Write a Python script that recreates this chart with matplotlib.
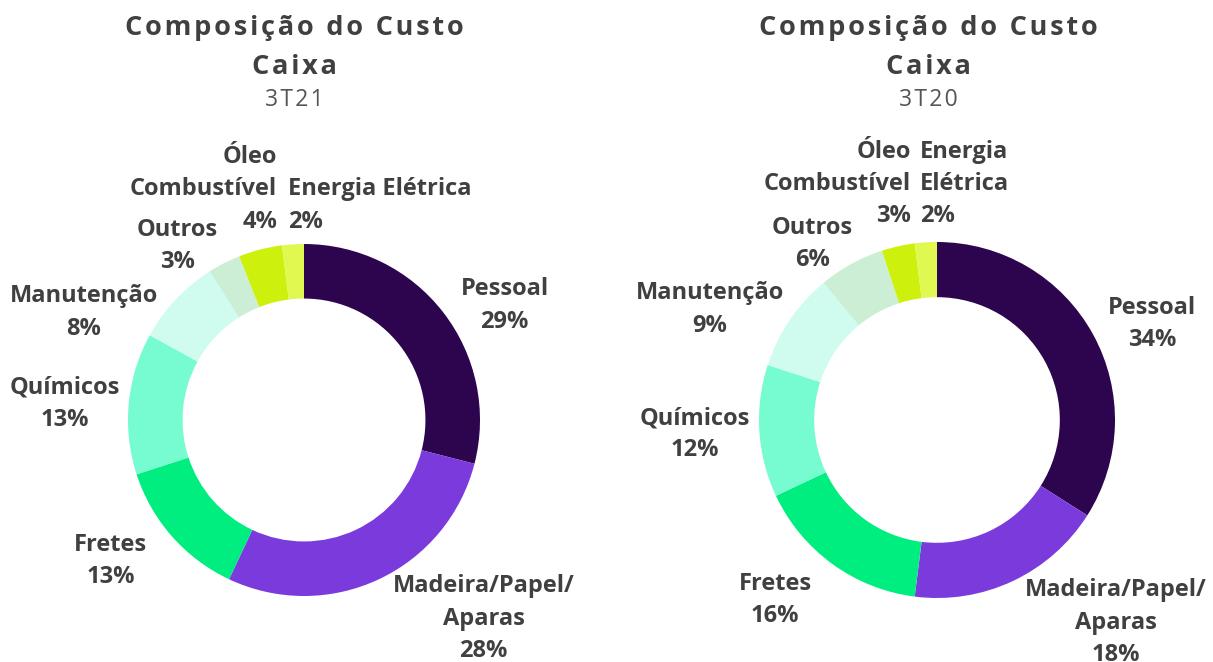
import matplotlib
matplotlib.use('Agg')
import matplotlib.pyplot as plt

# 데이터
categorias = ['Pessoal', 'Madeira/Papel/\nAparas', 'Fretes', 'Químicos', 'Manutenção',
              'Outros', 'Óleo\nCombustível', 'Energia Elétrica']
valores_3t21 = [29, 28, 13, 13, 8, 3, 4, 2]
valores_3t20 = [34, 18, 16, 12, 9, 6, 3, 2]
periodos = ['3T21', '3T20']
cores = ['#2d054e', '#7b3bdc', '#00ee80', '#76fcd0', '#d0fcef', '#cbeed5', '#cdf00c', '#e0f850']

TEXT_COLOR = '#404040'
FONT = ['Open Sans', 'DejaVu Sans']
W, H = 1213, 662

plt.rcParams['font.family'] = FONT

# posição dos rótulos (em raios, relativo ao centro) e alinhamento
pos_3t21 = [(1.14, 0.65, 'center'), (1.02, -1.13, 'center'), (-1.10, -0.80, 'center'),
            (-1.36, 0.09, 'center'), (-1.25, 0.61, 'center'), (-0.72, 0.99, 'center'),
            (-0.153, 1.31, 'right'), (-0.09, 1.22, 'left')]
pos_3t20 = [(1.21, 0.54, 'center'), (1.005, -1.14, 'center'), (-0.91, -1.01, 'center'),
            (-1.36, -0.08, 'center'), (-1.275, 0.62, 'center'), (-0.70, 0.99, 'center'),
            (-0.146, 1.326, 'right'), (-0.096, 1.326, 'left')]


def espacado(s):
    return '\u200a'.join(s)


def draw_donut(fig, left_px, cx, cy, r, valores, pos, nomes):
    width_px = W / 2
    ax = fig.add_axes([left_px / W, 0, width_px / W, 1])
    ax.pie(valores, colors=cores, startangle=90, counterclock=False,
           radius=1, wedgeprops=dict(width=0.31, linewidth=0))
    ax.set_xlim(-(cx - left_px) / r, (left_px + width_px - cx) / r)
    ax.set_ylim(-(H - cy) / r, cy / r)
    ax.set_aspect('auto')
    ax.axis('off')
    for nome, v, (x, y, ha) in zip(nomes, valores, pos):
        ax.text(x, y, f'{nome}\n{v}%', ha=ha, va='center', multialignment=ha,
                fontsize=17, fontweight='bold', color=TEXT_COLOR, linespacing=1.47)
    return ax


fig = plt.figure(figsize=(W / 100, H / 100), dpi=100)

nomes_3t20 = list(categorias)
nomes_3t20[7] = 'Energia\nElétrica'

draw_donut(fig, 0, 304, 420, 176, valores_3t21, pos_3t21, categorias)
draw_donut(fig, W / 2, 937, 420, 178, valores_3t20, pos_3t20, nomes_3t20)

for cx, periodo in zip([294, 928], periodos):
    fig.text(cx / W, 1 - 28 / H, espacado('Composição do Custo'), ha='center', va='center',
             fontsize=19.5, fontweight='bold', color=TEXT_COLOR)
    fig.text(cx / W, 1 - 67 / H, espacado('Caixa'), ha='center', va='center',
             fontsize=19.5, fontweight='bold', color=TEXT_COLOR)
    fig.text(cx / W, 1 - 100 / H, espacado(periodo), ha='center', va='center',
             fontsize=16.5, color='#555555')

fig.savefig('out.png', dpi=100)
